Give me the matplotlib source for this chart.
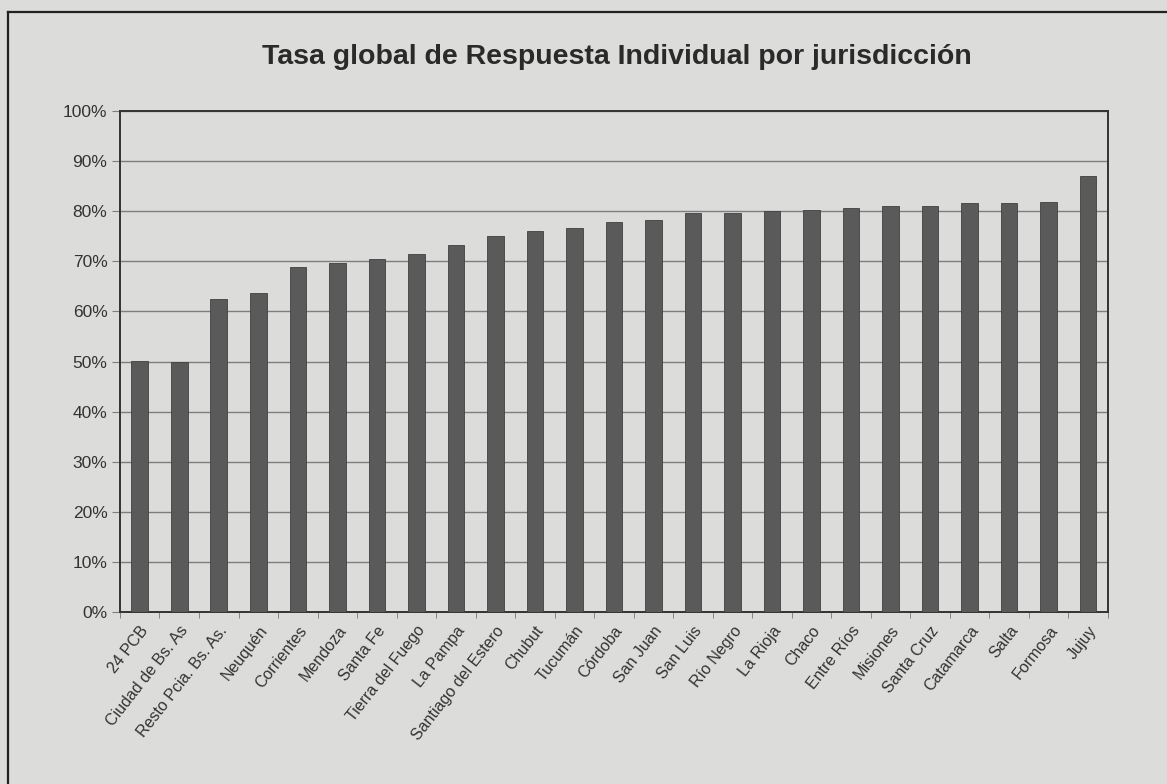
import matplotlib.pyplot as plt
import numpy as np
from matplotlib.lines import Line2D
from matplotlib.ticker import PercentFormatter

plt.rcParams['font.family'] = ['Liberation Sans', 'DejaVu Sans']

jurisdicciones = ["24 PCB", "Ciudad de Bs. As", "Resto Pcia. Bs. As.", "Neuquén", "Corrientes",
                  "Mendoza", "Santa Fe", "Tierra del Fuego", "La Pampa", "Santiago del Estero",
                  "Chubut", "Tucumán", "Córdoba", "San Juan", "San Luis", "Río Negro", "La Rioja",
                  "Chaco", "Entre Ríos", "Misiones", "Santa Cruz", "Catamarca", "Salta", "Formosa", "Jujuy"]
tasa = [50.1, 49.9, 62.5, 63.6, 68.9, 69.6, 70.5, 71.4, 73.3, 75.1,
        76.1, 76.6, 77.8, 78.3, 79.7, 79.7, 80.1, 80.3, 80.7, 81.1,
        81.1, 81.7, 81.7, 81.9, 87.0]

bg = "#dcdcda"
fig = plt.figure(figsize=(11.67, 7.84), dpi=100, facecolor=bg)
ax = fig.add_axes([0.1028, 0.2194, 0.8466, 0.639], facecolor=bg)

x = np.arange(len(jurisdicciones))
ax.bar(x, tasa, width=0.42, color="#5a5a5a", edgecolor="#404040", linewidth=0.6, zorder=3)

ax.set_xlim(-0.5, len(jurisdicciones) - 0.5)
ax.set_ylim(0, 100)
ax.set_yticks(np.arange(0, 101, 10))
ax.yaxis.set_major_formatter(PercentFormatter(decimals=0))
ax.grid(axis="y", color="#7e7e7e", linewidth=1.0, zorder=0)
ax.tick_params(axis="y", labelsize=12.5, labelcolor="#333333", length=6, color="#7e7e7e", pad=3)

ax.set_xticks(x)
ax.set_xticklabels(jurisdicciones, rotation=52, ha="right", rotation_mode="anchor",
                   fontsize=11.5, color="#333333")
ax.tick_params(axis="x", length=0, pad=8)
ax.set_xticks(np.arange(-0.5, len(jurisdicciones)), minor=True)
ax.tick_params(axis="x", which="minor", length=4, color="#777777")

for s in ax.spines.values():
    s.set_color("#333333")
    s.set_linewidth(1.4)

fig.text(0.529, 0.927, "Tasa global de Respuesta Individual por jurisdicción",
         ha="center", va="center", fontsize=20.5, fontweight="bold", color="#2a2a2a")

# marco exterior del gráfico
fig.add_artist(Line2D([0.007, 0.007], [0.0, 0.985], transform=fig.transFigure,
                      color="#222222", linewidth=1.6))
fig.add_artist(Line2D([0.007, 1.0], [0.985, 0.985], transform=fig.transFigure,
                      color="#222222", linewidth=1.6))

fig.savefig("out.png", dpi=100, facecolor=bg)
